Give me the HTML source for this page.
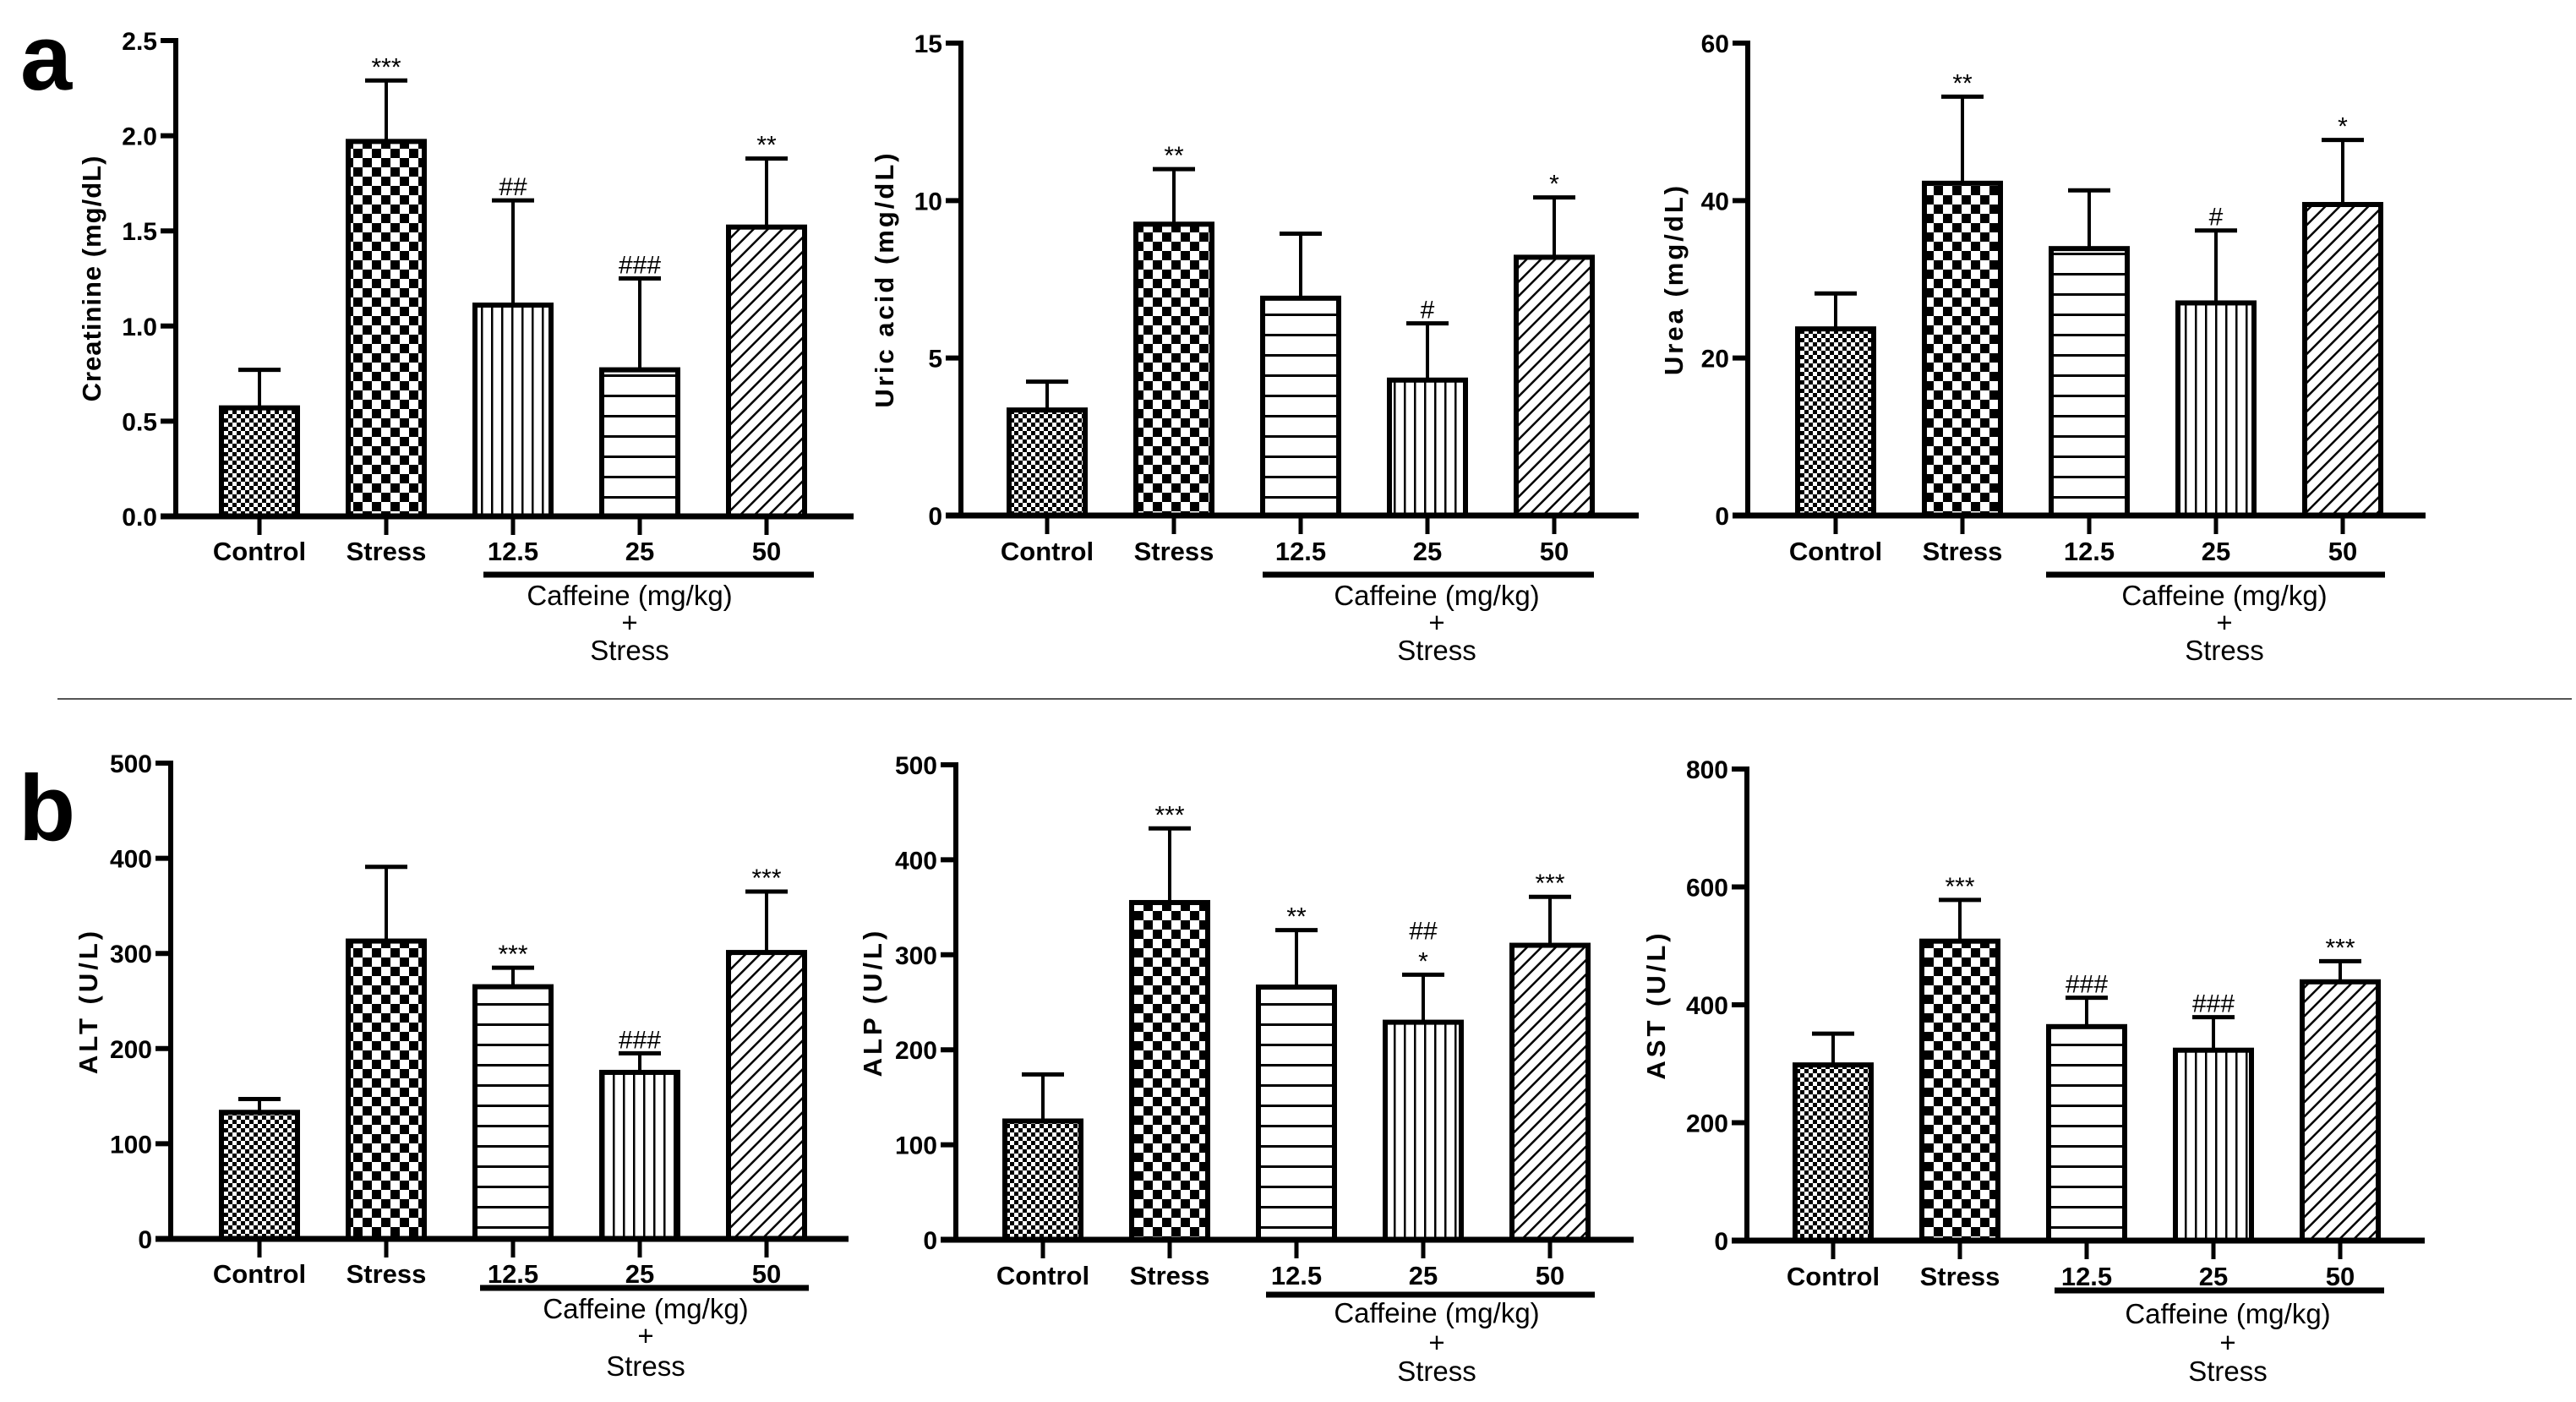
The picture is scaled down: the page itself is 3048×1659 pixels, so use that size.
<!DOCTYPE html>
<html><head><meta charset="utf-8">
<style>
html,body{margin:0;padding:0;background:#fff;}
svg{display:block;}
.tick{font-family:"Liberation Sans Narrow","Liberation Sans",sans-serif;font-weight:bold;font-size:30px;}
.cat{font-family:"Liberation Sans Narrow","Liberation Sans",sans-serif;font-weight:bold;font-size:31px;}
.caf{font-family:"Liberation Sans Narrow","Liberation Sans",sans-serif;font-size:33px;}
.ylab{font-family:"Liberation Sans",sans-serif;font-weight:bold;font-size:31px;}
.ann{font-family:"Liberation Sans",sans-serif;font-size:30px;}
</style></head>
<body>
<svg id="fig" xmlns="http://www.w3.org/2000/svg" width="3048" height="1659" viewBox="0 0 3048 1659">
<defs>
<pattern id="pFine" patternUnits="userSpaceOnUse" width="10" height="10"><rect width="10" height="10" fill="#fff"/><rect width="5" height="5" fill="#000"/><rect x="5" y="5" width="5" height="5" fill="#000"/></pattern>
<pattern id="pCheck" patternUnits="userSpaceOnUse" width="22" height="22"><rect width="22" height="22" fill="#fff"/><rect width="11" height="11" fill="#000"/><rect x="11" y="11" width="11" height="11" fill="#000"/></pattern>
<pattern id="pVert" patternUnits="userSpaceOnUse" width="12" height="12"><rect width="12" height="12" fill="#fff"/><rect x="5" width="2.5" height="12" fill="#000"/></pattern>
<pattern id="pHorz" patternUnits="userSpaceOnUse" width="12" height="24"><rect width="12" height="24" fill="#fff"/><rect y="11" width="12" height="3" fill="#000"/></pattern>
<pattern id="pDiag" patternUnits="userSpaceOnUse" width="12" height="12" patternTransform="rotate(45)"><rect width="12" height="12" fill="#fff"/><rect x="5" width="2.5" height="12" fill="#000"/></pattern>
</defs>
<text x="24" y="106" font-family="Liberation Sans, sans-serif" font-weight="bold" font-size="110">a</text>
<text x="22" y="994" font-family="Liberation Sans, sans-serif" font-weight="bold" font-size="110">b</text>
<line x1="68" y1="827" x2="3043" y2="827" stroke="#555" stroke-width="2"/>
</svg>
<script>
const categories=["Control","Stress","12.5","25","50"];
const creatinineMeans=[0.57,1.97,1.11,0.77,1.52];
const creatinineErr=[0.20,0.32,0.55,0.48,0.36];
const creatinineAnn=["","***","##","###","**"];
const creatinineTicks=["0.0","0.5","1.0","1.5","2.0","2.5"];
const uricMeans=[3.35,9.25,6.9,4.3,8.2];
const uricErr=[0.9,1.75,2.05,1.8,1.9];
const uricAnn=["","**","","#","*"];
const uricTicks=["0","5","10","15"];
const ureaMeans=[23.7,42.2,33.9,27.0,39.5];
const ureaErr=[4.5,11.0,7.4,9.2,8.2];
const ureaAnn=["","**","","#","*"];
const ureaTicks=["0","20","40","60"];
const altMeans=[133,313,265,175,301];
const altErr=[14,78,20,20,64];
const altAnn=["","","***","###","***"];
const altTicks=["0","100","200","300","400","500"];
const alpMeans=[125,355,266,229,310];
const alpErr=[49,78,60,50,51];
const alpAnn=["","***","**","*|##","***"];
const alpTicks=["0","100","200","300","400","500"];
const astMeans=[298,508,363,323,439];
const astErr=[53,70,49,56,35];
const astAnn=["","***","###","###","***"];
const astTicks=["0","200","400","600","800"];

const NS="http://www.w3.org/2000/svg";
const svg=document.getElementById('fig');
function mk(tag,attrs,parent){const e=document.createElementNS(NS,tag);for(const k in attrs)e.setAttribute(k,attrs[k]);(parent||svg).appendChild(e);return e;}

const panels=[
 {id:'creatinine',ylabel:'Creatinine (mg/dL)',ls:1,fs:35,means:creatinineMeans,err:creatinineErr,ann:creatinineAnn,ticks:creatinineTicks,max:2.5,ax:208,top:48,zero:611,c0:307,ul:[572,963,680],cx:745,ty:652,cy:[704,736,769],lx:108,fills:['pFine','pCheck','pVert','pHorz','pDiag']},
 {id:'uric-acid',ylabel:'Uric acid (mg/dL)',ls:3,fs:32,means:uricMeans,err:uricErr,ann:uricAnn,ticks:uricTicks,max:15,ax:1137,top:51,zero:610,c0:1239,ul:[1494,1886,680],cx:1700,ty:652,cy:[704,736,769],lx:1046,fills:['pFine','pCheck','pHorz','pVert','pDiag']},
 {id:'urea',ylabel:'Urea (mg/dL)',ls:3,fs:31,means:ureaMeans,err:ureaErr,ann:ureaAnn,ticks:ureaTicks,max:60,ax:2068,top:51,zero:610,c0:2172,ul:[2421,2822,680],cx:2632,ty:652,cy:[704,736,769],lx:1980,fills:['pFine','pCheck','pHorz','pVert','pDiag']},
 {id:'alt',ylabel:'ALT (U/L)',ls:4,fs:31,means:altMeans,err:altErr,ann:altAnn,ticks:altTicks,max:500,ax:202,top:903,zero:1466,c0:307,ul:[568,957,1524],cx:764,ty:1507,cy:[1548,1580,1616],lx:104,fills:['pFine','pCheck','pHorz','pVert','pDiag']},
 {id:'alp',ylabel:'ALP (U/L)',ls:4,fs:31,means:alpMeans,err:alpErr,ann:alpAnn,ticks:alpTicks,max:500,ax:1131,top:905,zero:1467,c0:1234,ul:[1498,1887,1532],cx:1700,ty:1509,cy:[1553,1588,1622],lx:1032,fills:['pFine','pCheck','pHorz','pVert','pDiag']},
 {id:'ast',ylabel:'AST (U/L)',ls:4,fs:31,means:astMeans,err:astErr,ann:astAnn,ticks:astTicks,max:800,ax:2067,top:910,zero:1468,c0:2169,ul:[2431,2821,1527],cx:2636,ty:1510,cy:[1554,1588,1622],lx:1959,fills:['pFine','pCheck','pHorz','pVert','pDiag']}
];

panels.forEach(p=>{
 const g=mk('g',{});
 
 
 const y=v=>p.zero-(v/p.max)*(p.zero-p.top);
 const x=i=>p.c0+i*150;
 const bw=96;
 p.means.forEach((m,i)=>{
  const yt=y(m), ye=y(m+p.err[i]);
  const el=mk('line',{x1:x(i),y1:yt,x2:x(i),y2:ye,stroke:'#000','stroke-width':4},g);
  
  
  const cap=mk('line',{x1:x(i)-25,y1:ye,x2:x(i)+25,y2:ye,stroke:'#000','stroke-width':5},g);
  
  
  const r=mk('rect',{x:x(i)-bw/2+3,y:yt,width:bw-6,height:p.zero-yt,fill:'url(#'+p.fills[i]+')',stroke:'#000','stroke-width':6},g);
  
  
  const parts=p.ann[i]?p.ann[i].split('|'):[];
  parts.forEach((a,k)=>{
   const isHash=a.indexOf('#')>=0;
   const t=mk('text',{x:x(i),y:ye-6-k*36,'text-anchor':'middle','class':'ann','font-size':isHash?36:30},g);
   t.textContent=a;
   
   
  });
 });
 const ya=mk('line',{x1:p.ax,y1:p.top-3,x2:p.ax,y2:p.zero+3,stroke:'#000','stroke-width':6},g);
 
 
 const xa=mk('line',{x1:p.ax-18,y1:p.zero,x2:p.ax+802,y2:p.zero,stroke:'#000','stroke-width':7},g);
 
 
 p.ticks.forEach((tk,i)=>{
  const v=p.max*i/(p.ticks.length-1);
  mk('line',{x1:p.ax-18,y1:y(v),x2:p.ax,y2:y(v),stroke:'#000','stroke-width':6},g);
  const t=mk('text',{x:p.ax-22,y:y(v)+11,'text-anchor':'end','class':'tick'},g);
  t.textContent=tk;
  
  
 });
 categories.forEach((c,i)=>{
  mk('line',{x1:x(i),y1:p.zero,x2:x(i),y2:p.zero+22,stroke:'#000','stroke-width':5},g);
  const t=mk('text',{x:x(i),y:p.ty+11,'text-anchor':'middle','class':'cat'},g);
  t.textContent=c;
  
  
 });
 const ul=mk('line',{x1:p.ul[0],y1:p.ul[2],x2:p.ul[1],y2:p.ul[2],stroke:'#000','stroke-width':7},g);
 
 
 ['Caffeine (mg/kg)','+','Stress'].forEach((s,k)=>{
  const t=mk('text',{x:p.cx,y:p.cy[k]+12,'text-anchor':'middle','class':'caf'},g);
  t.textContent=s;
  
  
 });
 const cyl=(p.top+p.zero)/2;
 const yl=mk('text',{x:p.lx,y:cyl,'text-anchor':'middle','class':'ylab','font-size':p.fs,'letter-spacing':p.ls,transform:'rotate(-90 '+p.lx+' '+cyl+') translate(0 11)'},g);
 yl.textContent=p.ylabel;
 
 
});
</script>
</body></html>
